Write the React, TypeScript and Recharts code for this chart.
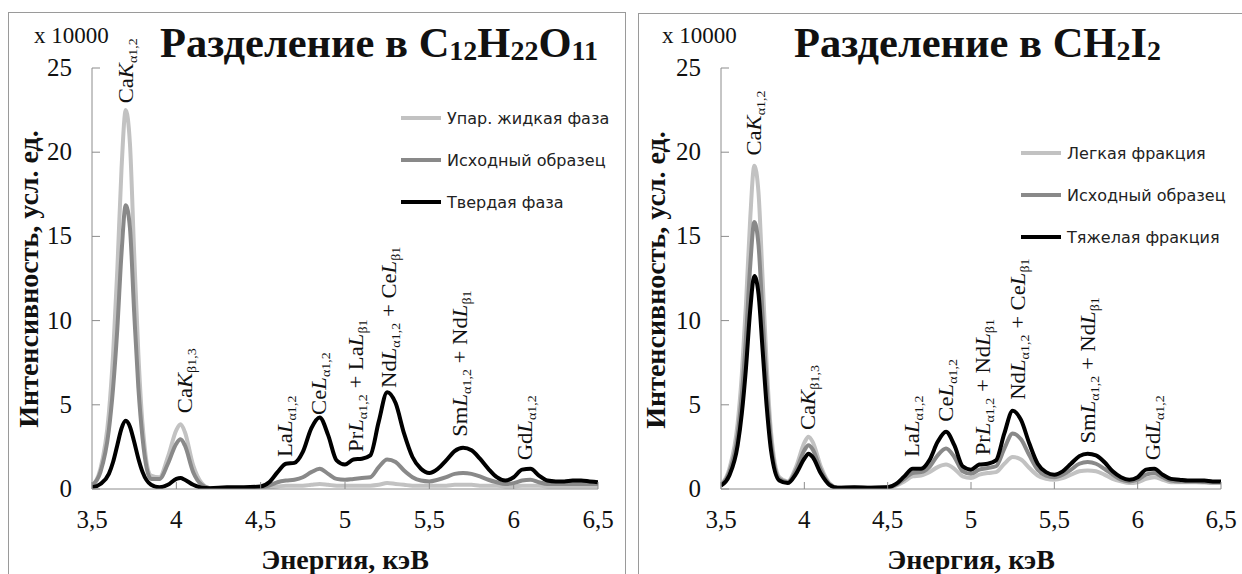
import React from "react";
import { LineChart, Line, XAxis, YAxis, Legend, ReferenceDot } from "recharts";

// energy grid, keV (denser around the CaKα peak)
const energy = [
  3.5, 3.55, 3.6, 3.625, 3.65, 3.675, 3.7, 3.725, 3.75, 3.775, 3.8, 3.85, 3.9, 3.95, 4.0, 4.025, 4.05, 4.1, 4.15, 4.2,
  4.3, 4.4, 4.5, 4.55, 4.6, 4.65, 4.7, 4.75, 4.8, 4.85, 4.9, 4.95, 5.0, 5.05, 5.1, 5.15, 5.2, 5.25, 5.3, 5.35,
  5.4, 5.45, 5.5, 5.55, 5.6, 5.65, 5.7, 5.75, 5.8, 5.85, 5.9, 5.95, 6.0, 6.05, 6.1, 6.15, 6.2, 6.25, 6.3, 6.35,
  6.4, 6.45, 6.5,
];

// left panel — C12H22O11 (x 10000)
const liquidLeft = [
  0.2, 1.2, 4.5, 8.0, 13.0, 19.0, 22.5, 20.5, 14.0, 8.0, 3.8, 0.8, 0.7, 1.9, 3.5, 3.85, 3.4, 1.4, 0.35, 0.05,
  0.02, 0.02, 0.05, 0.1, 0.15, 0.2, 0.2, 0.2, 0.25, 0.3, 0.25, 0.2, 0.2, 0.2, 0.2, 0.2, 0.25, 0.35, 0.3, 0.25,
  0.2, 0.2, 0.2, 0.2, 0.2, 0.25, 0.25, 0.25, 0.2, 0.2, 0.2, 0.15, 0.15, 0.2, 0.2, 0.2, 0.15, 0.15, 0.15, 0.15,
  0.15, 0.15, 0.15,
];
const sourceLeft = [
  0.2, 1.0, 3.5, 6.0, 9.5, 14.0, 16.85, 15.5, 10.5, 6.0, 3.0, 0.6, 0.6, 1.5, 2.7, 2.95, 2.6, 1.0, 0.25, 0.05,
  0.05, 0.05, 0.1, 0.2, 0.4, 0.5, 0.55, 0.7, 1.0, 1.2, 0.9, 0.6, 0.55, 0.6, 0.65, 0.7, 1.3, 1.75, 1.6, 1.1,
  0.7, 0.5, 0.45, 0.55, 0.7, 0.9, 0.95, 0.9, 0.75, 0.55, 0.4, 0.3, 0.35, 0.5, 0.55, 0.4, 0.3, 0.3, 0.3, 0.3,
  0.3, 0.3, 0.3,
];
const solidLeft = [
  0.1, 0.3, 0.9, 1.6, 2.6, 3.6, 4.05, 3.7, 2.8, 1.8, 1.0, 0.25, 0.1, 0.25, 0.6, 0.65, 0.55, 0.25, 0.08, 0.05,
  0.1, 0.1, 0.15, 0.4, 1.0, 1.5, 1.55, 2.2, 3.6, 4.25, 3.2, 1.7, 1.45, 1.75, 1.8, 2.0, 4.0, 5.75, 5.1, 3.3,
  1.9, 1.2, 0.95, 1.2, 1.7, 2.25, 2.45, 2.3, 1.8, 1.2, 0.7, 0.5, 0.7, 1.15, 1.2, 0.8, 0.5, 0.45, 0.45, 0.5,
  0.5, 0.45, 0.4,
];

// right panel — CH2I2
const lightRight = [
  0.25, 1.2, 3.9, 6.8, 11.0, 16.0, 19.2, 17.6, 12.4, 7.2, 3.4, 0.7, 0.45, 1.3, 2.75, 3.1, 2.8, 1.3, 0.35, 0.08,
  0.06, 0.06, 0.08, 0.2, 0.45, 0.75, 0.8, 1.0, 1.3, 1.45, 1.2, 0.75, 0.65, 0.85, 0.95, 1.0, 1.5, 1.9, 1.75, 1.25,
  0.8, 0.6, 0.55, 0.65, 0.85, 1.05, 1.1, 1.05, 0.85, 0.6, 0.45, 0.35, 0.4, 0.6, 0.7, 0.55, 0.4, 0.4, 0.4, 0.4,
  0.38, 0.36, 0.35,
];
const sourceRight = [
  0.2, 1.0, 3.2, 5.6, 9.0, 13.2, 15.85, 14.5, 10.2, 6.0, 2.8, 0.6, 0.4, 1.1, 2.3, 2.6, 2.35, 1.1, 0.3, 0.08,
  0.08, 0.08, 0.1, 0.25, 0.6, 0.95, 1.0, 1.3, 2.0, 2.4, 1.9, 1.05, 0.9, 1.15, 1.25, 1.35, 2.4, 3.3, 2.95, 2.0,
  1.15, 0.8, 0.7, 0.85, 1.15, 1.5, 1.6, 1.5, 1.2, 0.85, 0.55, 0.45, 0.55, 0.85, 0.95, 0.7, 0.5, 0.45, 0.45, 0.45,
  0.42, 0.4, 0.4,
];
const heavyRight = [
  0.2, 0.8, 2.6, 4.5, 7.2, 10.6, 12.65, 11.6, 8.2, 4.8, 2.3, 0.5, 0.35, 0.9, 1.8, 2.1, 1.9, 0.9, 0.25, 0.08,
  0.1, 0.08, 0.1, 0.3, 0.75, 1.2, 1.2, 1.7, 2.8, 3.4, 2.6, 1.35, 1.15, 1.45, 1.5, 1.7, 3.3, 4.65, 4.1, 2.7,
  1.5, 1.0, 0.85, 1.05, 1.5, 1.95, 2.1, 2.0, 1.6, 1.05, 0.7, 0.55, 0.7, 1.15, 1.2, 0.85, 0.6, 0.55, 0.5, 0.5,
  0.5, 0.45, 0.45,
];

const xTicks = [3.5, 4, 4.5, 5, 5.5, 6, 6.5];
const yTicks = [0, 5, 10, 15, 20, 25];

// peak annotations: [element, line, subscript] terms joined by " + "
type Term = [string, string, string];
const leftPeakE = [3.7, 4.05, 4.645, 4.845, 5.065, 5.26, 5.68, 6.07];
const leftPeakLevel = [22.9, 4.5, 1.9, 4.4, 2.2, 6.0, 3.1, 1.7];
const leftPeakTerms: Term[][] = [
  [["Ca", "K", "α1,2"]],
  [["Ca", "K", "β1,3"]],
  [["La", "L", "α1,2"]],
  [["Ce", "L", "α1,2"]],
  [["Pr", "L", "α1,2"], ["La", "L", "β1"]],
  [["Nd", "L", "α1,2"], ["Ce", "L", "β1"]],
  [["Sm", "L", "α1,2"], ["Nd", "L", "β1"]],
  [["Gd", "L", "α1,2"]],
];
const rightPeakE = [3.7, 4.02, 4.645, 4.85, 5.07, 5.28, 5.7, 6.09];
const rightPeakLevel = [19.8, 3.5, 1.9, 4.0, 2.0, 5.3, 2.7, 1.7];
const rightPeakTerms: Term[][] = [
  [["Ca", "K", "α1,2"]],
  [["Ca", "K", "β1,3"]],
  [["La", "L", "α1,2"]],
  [["Ce", "L", "α1,2"]],
  [["Pr", "L", "α1,2"], ["Nd", "L", "β1"]],
  [["Nd", "L", "α1,2"], ["Ce", "L", "β1"]],
  [["Sm", "L", "α1,2"], ["Nd", "L", "β1"]],
  [["Gd", "L", "α1,2"]],
];

const SERIF = '"Liberation Serif", "Times New Roman", serif';
const SANS = '"DejaVu Sans", Verdana, sans-serif';
const AXIS = "#8c8c8c";
const LIGHT = "#c2c2c2";
const MID = "#898989";
const DARK = "#000000";

const fmtE = (v: number) => String(v).replace(".", ",");

function YTick(props: any) {
  const { x, y, payload } = props;
  return (
    <g>
      <line x1={x} x2={x + 8} y1={y} y2={y} stroke={AXIS} />
      <text x={x - 20} y={y + 8} textAnchor="end" fontFamily={SERIF} fontSize={25} fill="#111">
        {payload.value}
      </text>
    </g>
  );
}

function XTick(props: any) {
  const { x, y, payload } = props;
  return (
    <g>
      <line x1={x} x2={x} y1={y} y2={y - 7} stroke={AXIS} />
      <text x={x} y={y + 39} textAnchor="middle" fontFamily={SERIF} fontSize={25} fill="#111">
        {fmtE(payload.value)}
      </text>
    </g>
  );
}

function PeakText({ cx, cy, terms }: { cx: number; cy: number; terms: Term[] }) {
  const parts: React.ReactNode[] = [];
  terms.forEach(([el, line, sub], i) => {
    if (i > 0) parts.push(<tspan key={`p${i}`} dy={-4}>{" + "}</tspan>);
    parts.push(
      <tspan key={`e${i}`}>{el}</tspan>,
      <tspan key={`l${i}`} fontStyle="italic">{line}</tspan>,
      <tspan key={`s${i}`} fontSize={13} dy={4}>{sub}</tspan>
    );
  });
  return (
    <text
      transform={`translate(${cx + 7},${cy}) rotate(-90) scale(1.08,1)`}
      fontFamily={SERIF}
      fontSize={21}
      fill="#111"
    >
      {parts}
    </text>
  );
}

function LegendBox({ payload }: any) {
  return (
    <div style={{ display: "flex", flexDirection: "column" }}>
      {(payload || []).map((p: any) => (
        <div key={p.value} style={{ height: 42, display: "flex", alignItems: "center" }}>
          <span style={{ width: 40, height: 4, background: p.color, marginRight: 6, display: "inline-block" }} />
          <span style={{ fontFamily: SANS, fontSize: 16, color: "#222", whiteSpace: "nowrap" }}>{p.value}</span>
        </div>
      ))}
    </div>
  );
}

type PanelProps = {
  left: number;
  width: number;
  marginLeft: number;
  marginRight: number;
  series: { key: string; name: string; color: string; values: number[] }[];
  peakE: number[];
  peakLevel: number[];
  peakTerms: Term[][];
  legendLeft: number;
  legendTop: number;
};

function Panel(p: PanelProps) {
  const data = energy.map((e, i) => {
    const row: Record<string, number> = { e };
    p.series.forEach((s) => (row[s.key] = s.values[i]));
    return row;
  });
  return (
    <div style={{ position: "absolute", left: p.left, top: 0 }}>
      <LineChart
        width={p.width}
        height={574}
        data={data}
        margin={{ top: 68, right: p.marginRight, left: p.marginLeft, bottom: 45 }}
      >
        <XAxis
          dataKey="e"
          type="number"
          domain={[3.5, 6.5]}
          ticks={xTicks}
          interval={0}
          allowDataOverflow
          axisLine={{ stroke: AXIS }}
          tickLine={false}
          tickSize={0}
          tickMargin={0}
          tick={<XTick />}
          height={40}
        />
        <YAxis
          type="number"
          domain={[0, 25]}
          ticks={yTicks}
          interval={0}
          allowDataOverflow
          axisLine={{ stroke: AXIS }}
          tickLine={false}
          tickSize={0}
          tickMargin={0}
          tick={<YTick />}
          width={50}
        />
        {p.series.map((s) => (
          <Line
            key={s.key}
            dataKey={s.key}
            name={s.name}
            type="monotone"
            stroke={s.color}
            strokeWidth={4}
            dot={false}
            activeDot={false}
            isAnimationActive={false}
          />
        ))}
        {p.peakE.map((e, i) => (
          <ReferenceDot
            key={i}
            x={e}
            y={p.peakLevel[i]}
            r={0}
            ifOverflow="visible"
            shape={(sp: any) => <PeakText cx={sp.cx} cy={sp.cy} terms={p.peakTerms[i]} />}
          />
        ))}
        <Legend
          layout="vertical"
          align="center"
          verticalAlign="middle"
          itemSorter="dataKey"
          content={<LegendBox />}
          wrapperStyle={{ left: p.legendLeft, top: p.legendTop, width: 230, right: "auto", bottom: "auto" }}
        />
      </LineChart>
    </div>
  );
}

export default function App() {
  return (
    <div
      style={{
        position: "absolute",
        left: 0,
        top: 0,
        width: 1242,
        height: 574,
        overflow: "hidden",
        background: "#fff",
      }}
    >
      <div style={{ position: "absolute", left: 8, top: 12, width: 616, height: 600, border: "1px solid #9a9a9a" }} />
      <div style={{ position: "absolute", left: 638, top: 13, width: 640, height: 600, border: "1px solid #9a9a9a" }} />
      <Panel
        left={0}
        width={625}
        marginLeft={42}
        marginRight={27}
        series={[
          { key: "a", name: "Упар. жидкая фаза", color: LIGHT, values: liquidLeft },
          { key: "b", name: "Исходный образец", color: MID, values: sourceLeft },
          { key: "c", name: "Твердая фаза", color: DARK, values: solidLeft },
        ]}
        peakE={leftPeakE}
        peakLevel={leftPeakLevel}
        peakTerms={leftPeakTerms}
        legendLeft={401}
        legendTop={97}
      />
      <Panel
        left={625}
        width={617}
        marginLeft={46}
        marginRight={21}
        series={[
          { key: "a", name: "Легкая фракция", color: LIGHT, values: lightRight },
          { key: "b", name: "Исходный образец", color: MID, values: sourceRight },
          { key: "c", name: "Тяжелая фракция", color: DARK, values: heavyRight },
        ]}
        peakE={rightPeakE}
        peakLevel={rightPeakLevel}
        peakTerms={rightPeakTerms}
        legendLeft={396}
        legendTop={132}
      />
      <svg
        width={1242}
        height={574}
        style={{ position: "absolute", left: 0, top: 0, pointerEvents: "none" }}
      >
        <g fontFamily={SERIF} fill="#111">
          <text x={34} y={43} fontSize={23}>x 10000</text>
          <text x={662} y={43} fontSize={23}>x 10000</text>
          <text x={160} y={57} fontSize={42.5} fontWeight="bold">
            Разделение в C<tspan fontSize={28} dy={3}>12</tspan>
            <tspan fontSize={42.5} dy={-3}>H</tspan>
            <tspan fontSize={28} dy={3}>22</tspan>
            <tspan fontSize={42.5} dy={-3}>O</tspan>
            <tspan fontSize={28} dy={3}>11</tspan>
          </text>
          <text x={794} y={57} fontSize={42.5} fontWeight="bold">
            Разделение в CH<tspan fontSize={28} dy={3}>2</tspan>
            <tspan fontSize={42.5} dy={-3}>I</tspan>
            <tspan fontSize={28} dy={3}>2</tspan>
          </text>
          <text transform="translate(38,279) rotate(-90)" textAnchor="middle" fontSize={28} fontWeight="bold">
            Интенсивность, усл. ед.
          </text>
          <text transform="translate(665,280) rotate(-90)" textAnchor="middle" fontSize={28} fontWeight="bold">
            Интенсивность, усл. ед.
          </text>
          <text x={345} y={569} textAnchor="middle" fontSize={28} fontWeight="bold">Энергия, кэВ</text>
          <text x={971} y={569} textAnchor="middle" fontSize={28} fontWeight="bold">Энергия, кэВ</text>
        </g>
      </svg>
    </div>
  );
}
